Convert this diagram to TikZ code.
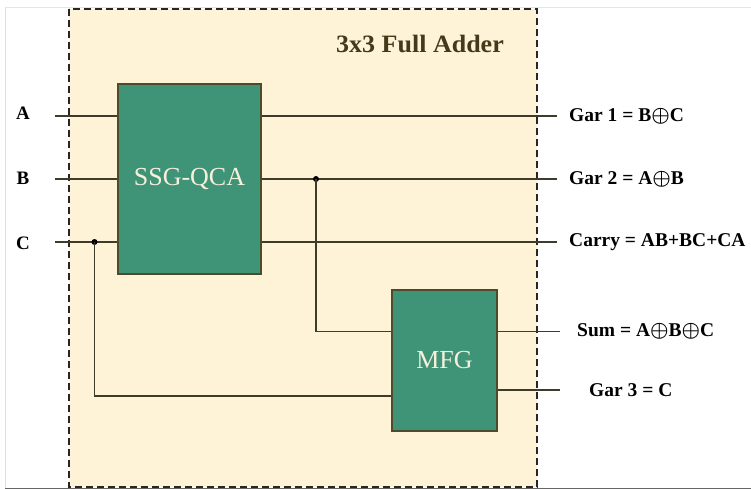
\documentclass[tikz,border=0pt]{standalone}
\usepackage{amsmath}
\usepackage{fontspec}
\setmainfont{Liberation Serif}
\definecolor{bgcream}{HTML}{FEF3D7}
\definecolor{boxgreen}{HTML}{3F9377}
\definecolor{boxedge}{HTML}{4E4A2C}
\definecolor{wire}{HTML}{3F3B2A}
\definecolor{titlecol}{HTML}{46391A}
\definecolor{gatetext}{HTML}{F4F0DC}
\newcommand{\xo}{$\boldsymbol{\oplus}$}
\tikzset{
  gatebox/.style={draw=boxedge, line width=1.3pt, fill=boxgreen, inner sep=0pt, text=gatetext},
  wireline/.style={draw=wire, line width=1.4pt},
  outlabel/.style={anchor=west, font=\fontsize{19.5}{22}\selectfont\bfseries, inner sep=0pt},
  inlabel/.style={font=\fontsize{19}{22}\selectfont\bfseries, inner sep=0pt},
  joint/.style={circle, fill=black, inner sep=0pt, minimum size=6pt},
}
\begin{document}
\begin{tikzpicture}[x=1pt, y=-1pt]
\useasboundingbox (0,0) rectangle (751,489);
% faint page edges
\draw[gray!20, line width=0.8pt] (5,7) -- (751,7);
\draw[gray!25, line width=0.8pt] (5,7) -- (5,488);
\draw[gray!80!black, line width=1.2pt] (5,488.3) -- (751,488.3);
% frame
\draw[fill=bgcream, draw=black!85, line width=1.2pt, dash pattern=on 7pt off 4pt] (69,9) rectangle (537,487);
\node[font=\fontsize{25}{28}\selectfont\bfseries, text=titlecol, xscale=1.04, transform shape] (title) at (420,44) {3x3 Full Adder};
% gates
\node[gatebox, minimum width=143pt, minimum height=190pt, font=\fontsize{26}{28}\selectfont] (ssg) at (189.5,179) {SSG-QCA};
\node[gatebox, minimum width=105pt, minimum height=141pt, font=\fontsize{26}{28}\selectfont] (mfg) at (444.5,360.5) {MFG};
% inputs
\node[inlabel] (A) at (23,113) {A};
\node[inlabel] (B) at (23,178) {B};
\node[inlabel] (C) at (23,243) {C};
\coordinate (ainS) at (55,116);
\coordinate (binS) at (55,179);
\coordinate (cinS) at (55,242);
\draw[wireline] (ainS) -- (ainS -| ssg.west);
\draw[wireline] (binS) -- (binS -| ssg.west);
\draw[wireline] (cinS) -- (cinS -| ssg.west);
% outputs
\node[outlabel] (g1) at (569,116) {Gar 1 = B\xo C};
\node[outlabel] (g2) at (569,179) {Gar 2 = A\xo B};
\node[outlabel] (cy) at (569,242) {Carry = AB+BC+CA};
\node[outlabel] (sm) at (577,331.5) {Sum = A\xo B\xo C};
\node[outlabel] (g3) at (589,390) {Gar 3 = C};
\coordinate (g1e) at (557,116);
\coordinate (g2e) at (557,179);
\coordinate (cye) at (557,242.3);
\coordinate (sme) at (560,331.5);
\coordinate (g3e) at (560,390);
\draw[wireline] (ssg.east |- g1e) -- (g1e);
\draw[wireline] (ssg.east |- g2e) -- (g2e);
\draw[wireline, line width=1.9pt] (ssg.east |- cye) -- (cye);
\draw[wireline, line width=1.7pt] (mfg.east |- sme) -- (sme);
\draw[wireline, line width=1.7pt] (mfg.east |- g3e) -- (g3e);
% internal wires
\node[joint] (jb) at (316,179) {};
\node[joint] (jc) at (94.5,242) {};
\draw[wireline] (jb.center) |- (mfg.west |- sme);
\draw[wireline] (jc.center) |- (mfg.west |- 0,396);
\end{tikzpicture}
\end{document}
